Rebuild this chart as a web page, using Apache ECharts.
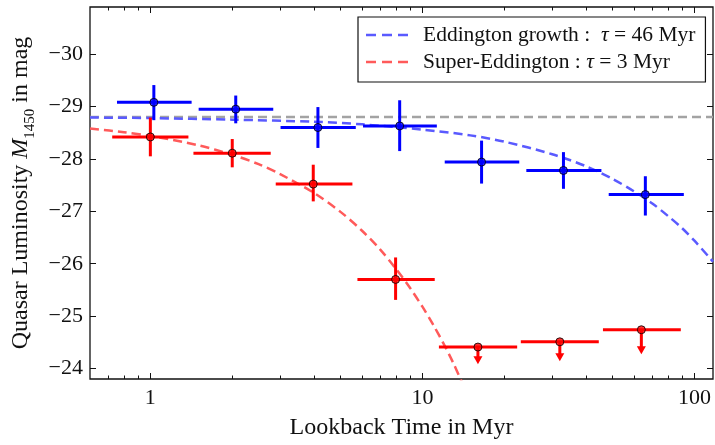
<!DOCTYPE html>
<html>
<head>
<meta charset="utf-8">
<script src="https://cdn.jsdelivr.net/npm/echarts@6/dist/echarts.min.js"></script>
<style>
  html, body { margin: 0; padding: 0; background: #fff; }
  #chart { width: 715px; height: 445px; }
</style>
</head>
<body>
<div id="chart"></div>
<script>
// Eddington-growth sample (blue): bin centres, bin edges, magnitudes and error bounds
const blueTime   = [1.03, 2.06, 4.13, 8.25, 16.5, 33.0, 66.0];
const blueTimeLo = [0.754, 1.505, 3.01, 6.05, 12.08, 24.1, 48.4];
const blueTimeHi = [1.418, 2.83, 5.69, 11.3, 22.7, 45.5, 91.4];
const blueMag    = [-29.08, -28.95, -28.60, -28.63, -27.94, -27.78, -27.32];
const blueMagLo  = [-29.41, -29.21, -28.99, -29.12, -28.35, -28.13, -27.67];
const blueMagHi  = [-28.74, -28.68, -28.21, -28.15, -27.53, -27.43, -26.92];

// Super-Eddington sample (red): measured bins
const redTime   = [1.0, 2.0, 3.97, 7.97];
const redTimeLo = [0.724, 1.44, 2.89, 5.77];
const redTimeHi = [1.38, 2.77, 5.53, 11.1];
const redMag    = [-28.42, -28.11, -27.52, -25.70];
const redMagLo  = [-28.79, -28.38, -27.89, -26.12];
const redMagHi  = [-28.05, -27.84, -27.19, -25.31];

// Super-Eddington sample (red): upper limits, with the end of each limit arrow
const limTime   = [16.0, 32.0, 63.8];
const limTimeLo = [11.5, 23.0, 46.1];
const limTimeHi = [22.3, 44.5, 89.1];
const limMag    = [-24.41, -24.51, -24.74];
const limMagEnd = [-24.08, -24.14, -24.27];

// Model light curves
const eddCurveTime = [0.6, 1, 2, 4, 6, 10, 15, 20, 30, 40, 50, 60, 70, 80, 90, 100, 117];
const eddCurveMag  = [-28.79, -28.78, -28.75, -28.71, -28.66, -28.56, -28.45, -28.33, -28.09,
                      -27.86, -27.62, -27.38, -27.15, -26.91, -26.68, -26.44, -26.04];
const supCurveTime = [0.6, 0.8, 1, 1.5, 2, 2.5, 3, 4, 5, 6, 7, 8, 9, 10, 11, 12, 13, 14];
const supCurveMag  = [-28.58, -28.51, -28.44, -28.26, -28.08, -27.90, -27.71, -27.35, -26.99,
                      -26.63, -26.27, -25.90, -25.54, -25.18, -24.82, -24.46, -24.10, -23.73];

// Present-day luminosity reference level
const refTime = [0.6, 117];
const refMag  = [-28.8, -28.8];

// Axis ticks
const xMajorTicks = [1, 10, 100];
const xMinorTicks = [0.7, 0.8, 0.9, 2, 3, 4, 5, 6, 7, 8, 9, 20, 30, 40, 50, 60, 70, 80, 90];
const yTicks = [-30, -29, -28, -27, -26, -25, -24];

const serif = 'Liberation Serif';
const ink = '#111';
// three-dash legend key
const dashIcon = 'path://M0,0H10V2.5H0Z M16,0H26V2.5H16Z M32,0H42V2.5H32Z';

const zip = (...cols) => cols[0].map((_, i) => cols.map(c => c[i]));

function renderErrorBar(params, api) {
  const x = api.value(0), y = api.value(1);
  const l = api.coord([api.value(2), y]);
  const r = api.coord([api.value(3), y]);
  const t = api.coord([x, api.value(4)]);
  const b = api.coord([x, api.value(5)]);
  const color = api.visual('color');
  const st = { stroke: color, lineWidth: 3 };
  return {
    type: 'group',
    children: [
      { type: 'line', shape: { x1: l[0], y1: l[1], x2: r[0], y2: r[1] }, style: st },
      { type: 'line', shape: { x1: t[0], y1: t[1], x2: b[0], y2: b[1] }, style: st }
    ]
  };
}

function renderLimit(params, api) {
  const x = api.value(0), y = api.value(1);
  const l = api.coord([api.value(2), y]);
  const r = api.coord([api.value(3), y]);
  const c = api.coord([x, y]);
  const e = api.coord([x, api.value(4)]);
  const color = api.visual('color');
  const head = 8, half = 4.5;
  return {
    type: 'group',
    children: [
      { type: 'line', shape: { x1: l[0], y1: l[1], x2: r[0], y2: r[1] }, style: { stroke: color, lineWidth: 3 } },
      { type: 'line', shape: { x1: c[0], y1: c[1], x2: e[0], y2: e[1] - head + 1 }, style: { stroke: color, lineWidth: 3 } },
      { type: 'polygon', shape: { points: [[e[0] - half, e[1] - head], [e[0] + half, e[1] - head], [e[0], e[1]]] },
        style: { fill: color } }
    ]
  };
}

const chart = echarts.init(document.getElementById('chart'), null, { renderer: 'canvas' });

const logAxisBase = {
  type: 'log', logBase: 10, min: 0.6, max: 117, gridIndex: 0,
  axisLine: { show: false },
  splitLine: { show: false },
  axisLabel: { show: false }
};

const option = {
  animation: false,
  backgroundColor: '#fff',
  grid: {
    left: 90, right: 2, top: 7, bottom: 58,
    show: true, borderColor: ink, borderWidth: 1.3, backgroundColor: 'transparent'
  },
  legend: {
    orient: 'vertical',
    left: 358, top: 17,
    padding: [6, 10, 8, 8],
    itemGap: 3,
    itemWidth: 42, itemHeight: 14,
    backgroundColor: '#fff',
    borderColor: ink, borderWidth: 1.2, borderRadius: 0,
    icon: dashIcon,
    data: ['Eddington growth', 'Super-Eddington'],
    formatter: function (name) {
      if (name === 'Eddington growth') return '{t|Eddington growth :  }{i|τ}{t| = 46 Myr}';
      return '{t|Super-Eddington : }{i|τ}{t| = 3 Myr}';
    },
    textStyle: {
      fontFamily: serif, fontSize: 21.5, color: ink, lineHeight: 24,
      padding: [0, 0, 0, 10],
      rich: {
        t: { fontFamily: serif, fontSize: 21.5, color: ink, lineHeight: 24 },
        i: { fontFamily: serif, fontSize: 21.5, color: ink, fontStyle: 'italic', lineHeight: 24 }
      }
    }
  },
  xAxis: [
    Object.assign({}, logAxisBase, {
      position: 'bottom',
      name: 'Lookback Time in Myr',
      nameLocation: 'middle', nameGap: 37,
      nameTextStyle: { fontFamily: serif, fontSize: 24, color: ink },
      axisLabel: {
        show: true, customValues: xMajorTicks, margin: 8,
        fontFamily: serif, fontSize: 22, color: ink,
        formatter: v => String(Math.round(v))
      },
      axisTick: { show: true, inside: true, length: 6, customValues: xMajorTicks,
                  lineStyle: { color: ink, width: 1 } }
    }),
    Object.assign({}, logAxisBase, {
      position: 'bottom',
      axisTick: { show: true, inside: true, length: 3.5, customValues: xMinorTicks,
                  lineStyle: { color: ink, width: 1 } }
    }),
    Object.assign({}, logAxisBase, {
      position: 'top',
      axisTick: { show: true, inside: true, length: 6, customValues: xMajorTicks,
                  lineStyle: { color: ink, width: 1 } }
    }),
    Object.assign({}, logAxisBase, {
      position: 'top',
      axisTick: { show: true, inside: true, length: 3.5, customValues: xMinorTicks,
                  lineStyle: { color: ink, width: 1 } }
    })
  ],
  yAxis: [
    {
      type: 'value', inverse: true, min: -30.9, max: -23.8, gridIndex: 0,
      position: 'left',
      name: '{a|Quasar Luminosity }{m|M}{s|1450}{a| in mag}',
      nameLocation: 'middle', nameGap: 57,
      nameTextStyle: {
        fontFamily: serif, fontSize: 24, color: ink,
        rich: {
          a: { fontFamily: serif, fontSize: 24, color: ink, lineHeight: 24 },
          m: { fontFamily: serif, fontSize: 24, color: ink, fontStyle: 'italic', lineHeight: 24 },
          s: { fontFamily: serif, fontSize: 15, color: ink, lineHeight: 15, verticalAlign: 'top', padding: [14, 0, 0, 0] }
        }
      },
      axisLine: { show: false },
      splitLine: { show: false },
      axisTick: { show: true, inside: true, length: 6, customValues: yTicks,
                  lineStyle: { color: ink, width: 1 } },
      axisLabel: {
        show: true, customValues: yTicks, margin: 7,
        fontFamily: serif, fontSize: 22, color: ink,
        formatter: v => String(v).replace('-', '\u2212')
      }
    },
    {
      type: 'value', inverse: true, min: -30.9, max: -23.8, gridIndex: 0,
      position: 'right',
      axisLine: { show: false },
      splitLine: { show: false },
      axisLabel: { show: false },
      axisTick: { show: true, inside: true, length: 6, customValues: yTicks,
                  lineStyle: { color: ink, width: 1 } }
    }
  ],
  series: [
    {
      name: 'reference level', type: 'line', showSymbol: false, symbol: 'none',
      data: zip(refTime, refMag), z: 2, silent: true,
      lineStyle: { color: '#a3a3a3', width: 2.5, type: [9, 5] }
    },
    {
      name: 'Eddington growth', type: 'line', symbol: 'none', smooth: 0.3,
      data: zip(eddCurveTime, eddCurveMag), z: 3,
      itemStyle: { color: '#5a5aff' },
      lineStyle: { color: '#5a5aff', width: 2.5, type: [9, 5] }
    },
    {
      name: 'Super-Eddington', type: 'line', symbol: 'none', smooth: 0.3,
      data: zip(supCurveTime, supCurveMag), z: 3,
      itemStyle: { color: '#ff5a5a' },
      lineStyle: { color: '#ff5a5a', width: 2.5, type: [9, 5] }
    },
    {
      name: 'blue bars', type: 'custom', renderItem: renderErrorBar, z: 4,
      itemStyle: { color: '#0000ff' },
      encode: { x: [0, 2, 3], y: [1, 4, 5] },
      data: zip(blueTime, blueMag, blueTimeLo, blueTimeHi, blueMagLo, blueMagHi)
    },
    {
      name: 'red bars', type: 'custom', renderItem: renderErrorBar, z: 4,
      itemStyle: { color: '#ff0000' },
      encode: { x: [0, 2, 3], y: [1, 4, 5] },
      data: zip(redTime, redMag, redTimeLo, redTimeHi, redMagLo, redMagHi)
    },
    {
      name: 'red limits', type: 'custom', renderItem: renderLimit, z: 4,
      itemStyle: { color: '#ff0000' },
      encode: { x: [0, 2, 3], y: [1, 4] },
      data: zip(limTime, limMag, limTimeLo, limTimeHi, limMagEnd)
    },
    {
      name: 'blue points', type: 'scatter', symbol: 'circle', symbolSize: 8, z: 5,
      itemStyle: { color: '#0000ff', borderColor: '#000', borderWidth: 1 },
      data: zip(blueTime, blueMag)
    },
    {
      name: 'red points', type: 'scatter', symbol: 'circle', symbolSize: 8, z: 5,
      itemStyle: { color: '#ff0000', borderColor: '#000', borderWidth: 1 },
      data: zip(redTime.concat(limTime), redMag.concat(limMag))
    }
  ]
};

chart.setOption(option);
</script>
</body>
</html>
